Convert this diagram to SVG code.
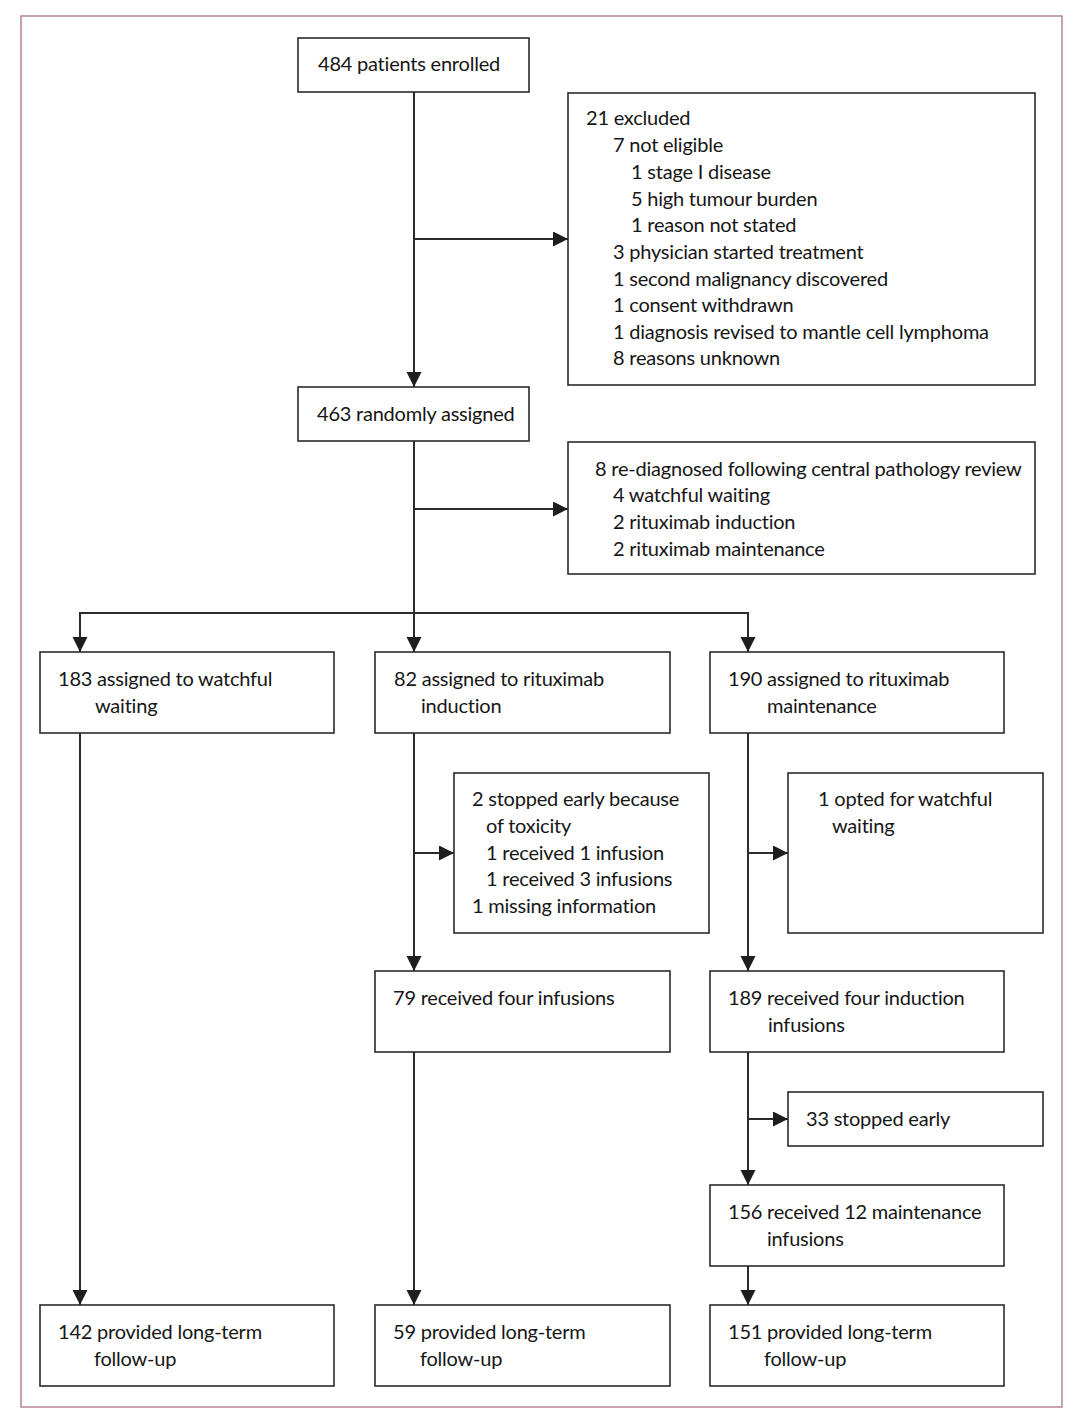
<svg xmlns="http://www.w3.org/2000/svg" width="1074" height="1416" viewBox="0 0 1074 1416">
<defs>
<style>
.b{fill:#fff;stroke:#2b2b2b;stroke-width:1.6}
.t{font-family:Lato,"Open Sans","Liberation Sans",sans-serif;font-size:20px;letter-spacing:-0.22px;fill:#161616}
.c{fill:none;stroke:#2b2b2b;stroke-width:2}
</style>
<marker id="ah" markerUnits="userSpaceOnUse" markerWidth="16" markerHeight="16" refX="15" refY="7.5" orient="auto">
<path d="M0,0 L15,7.5 L0,15 z" fill="#1e1e1e"/>
</marker>
</defs>
<rect x="0" y="0" width="1074" height="1416" fill="#fff"/>
<rect x="21" y="16" width="1041" height="1391" fill="none" stroke="#b58592" stroke-width="1.5"/>
<g id="connectors">
<path class="c" d="M414,92 V387" marker-end="url(#ah)"/>
<path class="c" d="M414,239 H568" marker-end="url(#ah)"/>
<path class="c" d="M414,441 V613"/>
<path class="c" d="M414,509 H568" marker-end="url(#ah)"/>
<path class="c" d="M80,613 H748"/>
<path class="c" d="M80,612 V652" marker-end="url(#ah)"/>
<path class="c" d="M414,612 V652" marker-end="url(#ah)"/>
<path class="c" d="M748,612 V652" marker-end="url(#ah)"/>
<path class="c" d="M80,733 V1305" marker-end="url(#ah)"/>
<path class="c" d="M414,733 V971" marker-end="url(#ah)"/>
<path class="c" d="M414,853 H454" marker-end="url(#ah)"/>
<path class="c" d="M414,1052 V1305" marker-end="url(#ah)"/>
<path class="c" d="M748,733 V971" marker-end="url(#ah)"/>
<path class="c" d="M748,853 H788" marker-end="url(#ah)"/>
<path class="c" d="M748,1052 V1185" marker-end="url(#ah)"/>
<path class="c" d="M748,1119 H788" marker-end="url(#ah)"/>
<path class="c" d="M748,1266 V1305" marker-end="url(#ah)"/>
</g>
<g id="enrolled">
<rect class="b" x="298" y="38" width="231" height="54"/>
<text class="t" x="318" y="71">484 patients enrolled</text>
</g>
<g id="excluded">
<rect class="b" x="568" y="93" width="467" height="292"/>
<text class="t" x="586" y="125">21 excluded</text>
<text class="t" x="613" y="152">7 not eligible</text>
<text class="t" x="631" y="179">1 stage I disease</text>
<text class="t" x="631" y="206">5 high tumour burden</text>
<text class="t" x="631" y="232">1 reason not stated</text>
<text class="t" x="613" y="259">3 physician started treatment</text>
<text class="t" x="613" y="286">1 second malignancy discovered</text>
<text class="t" x="613" y="312">1 consent withdrawn</text>
<text class="t" x="613" y="339">1 diagnosis revised to mantle cell lymphoma</text>
<text class="t" x="613" y="365">8 reasons unknown</text>
</g>
<g id="randomised">
<rect class="b" x="298" y="387" width="231" height="54"/>
<text class="t" x="317" y="421">463 randomly assigned</text>
</g>
<g id="rediagnosed">
<rect class="b" x="568" y="442" width="467" height="132"/>
<text class="t" x="595" y="476">8 re-diagnosed following central pathology review</text>
<text class="t" x="613" y="502">4 watchful waiting</text>
<text class="t" x="613" y="529">2 rituximab induction</text>
<text class="t" x="613" y="556">2 rituximab maintenance</text>
</g>
<g id="watchful">
<rect class="b" x="40" y="652" width="294" height="81"/>
<text class="t" x="58" y="686">183 assigned to watchful</text>
<text class="t" x="95" y="713">waiting</text>
</g>
<g id="induction">
<rect class="b" x="375" y="652" width="295" height="81"/>
<text class="t" x="394" y="686">82 assigned to rituximab</text>
<text class="t" x="421" y="713">induction</text>
</g>
<g id="maintenance">
<rect class="b" x="710" y="652" width="294" height="81"/>
<text class="t" x="728" y="686">190 assigned to rituximab</text>
<text class="t" x="767" y="713">maintenance</text>
</g>
<g id="stopped-induction">
<rect class="b" x="454" y="773" width="255" height="160"/>
<text class="t" x="472" y="806">2 stopped early because</text>
<text class="t" x="486" y="833">of toxicity</text>
<text class="t" x="486" y="860">1 received 1 infusion</text>
<text class="t" x="486" y="886">1 received 3 infusions</text>
<text class="t" x="472" y="913">1 missing information</text>
</g>
<g id="opted">
<rect class="b" x="788" y="773" width="255" height="160"/>
<text class="t" x="818" y="806">1 opted for watchful</text>
<text class="t" x="832" y="833">waiting</text>
</g>
<g id="four-infusions">
<rect class="b" x="375" y="971" width="295" height="81"/>
<text class="t" x="393" y="1005">79 received four infusions</text>
</g>
<g id="four-induction">
<rect class="b" x="710" y="971" width="294" height="81"/>
<text class="t" x="728" y="1005">189 received four induction</text>
<text class="t" x="768" y="1032">infusions</text>
</g>
<g id="stopped-maint">
<rect class="b" x="788" y="1092" width="255" height="54"/>
<text class="t" x="806" y="1126">33 stopped early</text>
</g>
<g id="twelve">
<rect class="b" x="710" y="1185" width="294" height="81"/>
<text class="t" x="728" y="1219">156 received 12 maintenance</text>
<text class="t" x="767" y="1246">infusions</text>
</g>
<g id="fu-watchful">
<rect class="b" x="40" y="1305" width="294" height="81"/>
<text class="t" x="58" y="1339">142 provided long-term</text>
<text class="t" x="94" y="1366">follow-up</text>
</g>
<g id="fu-induction">
<rect class="b" x="375" y="1305" width="295" height="81"/>
<text class="t" x="393" y="1339">59 provided long-term</text>
<text class="t" x="420" y="1366">follow-up</text>
</g>
<g id="fu-maintenance">
<rect class="b" x="710" y="1305" width="294" height="81"/>
<text class="t" x="728" y="1339">151 provided long-term</text>
<text class="t" x="764" y="1366">follow-up</text>
</g>
</svg>
